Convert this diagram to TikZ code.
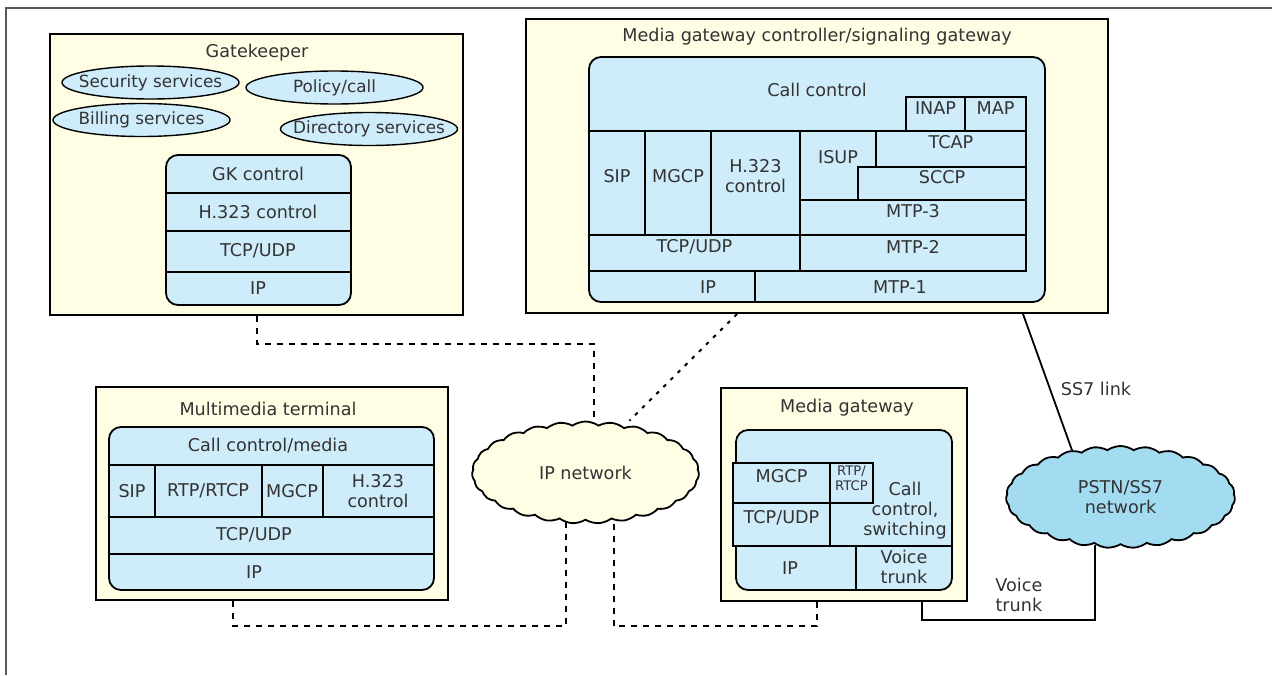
\documentclass[tikz,border=0pt]{standalone}
\usepackage{fontspec}
\setmainfont{DejaVu Sans}
\usetikzlibrary{positioning, shapes.geometric, shapes.symbols, fit}

\definecolor{boxcream}{HTML}{FFFDE3}
\definecolor{stackblue}{HTML}{CFECFA}
\definecolor{pstnblue}{HTML}{A3DBF1}
\definecolor{txtgray}{HTML}{333333}

\begin{document}
\begin{tikzpicture}[
    x=0.5pt, y=-0.5pt,
    font=\fontsize{8.8pt}{10pt}\selectfont,
    unit/.style={draw, fill=boxcream, line width=1pt, inner sep=0pt},
    stack/.style={draw, fill=stackblue, line width=0.9pt, rounded corners=6pt, inner sep=0pt},
    layer/.style={draw, fill=stackblue, line width=0.9pt, inner sep=0pt, align=center, text=txtgray},
    lbl/.style={text=txtgray, align=center, inner sep=1pt},
    svc/.style={ellipse, draw, fill=stackblue, line width=0.7pt, inner sep=0pt, minimum width=88.5pt, minimum height=16.5pt},
    svctext/.style={lbl, font=\fontsize{8.4pt}{10pt}\selectfont},
    net/.style={cloud, cloud puffs=27, cloud puff arc=70, aspect=2.3, draw, line width=0.9pt, inner sep=0pt, align=center, text=txtgray},
    link/.style={dash pattern=on 3pt off 3pt, line width=1pt},
    sigline/.style={line width=0.9pt}
]
    \useasboundingbox (0,0) rectangle (1272,675);
    \draw[black!65, line width=0.8pt] (6,675) -- (6,8) -- (1272,8);

    % --- Gatekeeper ---
    \node[unit, fit={(50,34) (463,315)}] (gk) {};
    \node[lbl] (gktitle) at (257,53) {Gatekeeper};
    \node[svc, label={[svctext]center:Security services}] (secsvc) at (150.5,82.5) {};
    \node[svc, label={[svctext]center:Policy/call}] (polcall) at (334.5,87.5) {};
    \node[svc, label={[svctext]center:Billing services}] (billsvc) at (141.5,120) {};
    \node[svc, label={[svctext]center:Directory services}] (dirsvc) at (369,129) {};
    \node[stack, fit={(166,155) (351,305)}] (gkstack) {};
    \draw[line width=0.9pt] (166,193) -- (351,193) (166,231) -- (351,231) (166,272) -- (351,272);
    \node[lbl] (gkctl) at (258,174) {GK control};
    \node[lbl] (gkh323) at (258,212) {H.323 control};
    \node[lbl] (gktcp) at (258,251) {TCP/UDP};
    \node[lbl] (gkip) at (258,288) {IP};

    % --- Media gateway controller / signaling gateway ---
    \node[unit, fit={(526,19) (1108,313)}] (mgc) {};
    \node[lbl] (mgctitle) at (817,37) {Media gateway controller/signaling gateway};
    \node[stack, fit={(589,57) (1045,302)}] (mgcstack) {};
    \node[lbl] (callctl) at (817,90) {Call control};
    \node[layer, fit={(906,97) (965,131)}] (inap) {INAP};
    \node[layer, fit={(965,97) (1026,131)}] (map) {MAP};
    \node[layer, fit={(589,131) (645,235)}] (sip) {SIP};
    \node[layer, fit={(645,131) (711,235)}] (mgcp) {MGCP};
    \node[layer, fit={(711,131) (800,235)}] (hctl) {H.323\\control};
    \node[layer, fit={(800,131) (876,200)}] (isup) {};
    \node[lbl] at (838,157) {ISUP};
    \node[layer, fit={(876,131) (1026,167)}] (tcap) {TCAP};
    \node[layer, fit={(858,167) (1026,200)}] (sccp) {SCCP};
    \node[layer, fit={(800,200) (1026,235)}] (mtp3) {MTP-3};
    \node[layer, fit={(589,235) (800,271)}] (tcpudp) {TCP/UDP};
    \node[layer, fit={(800,235) (1026,271)}] (mtp2) {MTP-2};
    \draw[line width=0.9pt] (755,271) -- (755,302);
    \node[lbl] (mgcip) at (708,287) {IP};
    \node[lbl] (mtp1) at (900,287) {MTP-1};

    % --- Multimedia terminal ---
    \node[unit, fit={(96,387) (448,600)}] (mt) {};
    \node[lbl] (mttitle) at (268,409) {Multimedia terminal};
    \node[stack, fit={(109,427) (434,590)}] (mtstack) {};
    \draw[line width=0.9pt] (109,465) -- (434,465) (109,517) -- (434,517) (109,554) -- (434,554)
        (155,465) -- (155,517) (262,465) -- (262,517) (323,465) -- (323,517);
    \node[lbl] (mtcall) at (268,446) {Call control/media};
    \node[lbl] (mtsip) at (132,491) {SIP};
    \node[lbl] (mtrtp) at (208,491) {RTP/RTCP};
    \node[lbl] (mtmgcp) at (292,491) {MGCP};
    \node[lbl] (mth323) at (378,491) {H.323\\control};
    \node[lbl] (mttcp) at (254,535) {TCP/UDP};
    \node[lbl] (mtip) at (254,572) {IP};

    % --- Media gateway ---
    \node[unit, fit={(721,388) (967,601)}] (mg) {};
    \node[lbl] (mgtitle) at (847,408) {Media gateway};
    \node[stack, fit={(736,430) (952,590)}] (mgstack) {};
    \node[layer, fit={(733,463) (830,503)}] (mgmgcp) {MGCP};
    \node[layer, fit={(830,463) (873,503)}, font=\fontsize{6.6pt}{7.5pt}\selectfont] (mgrtp) {RTP/\\RTCP};
    \node[layer, fit={(733,503) (830,546)}] (mgtcp) {TCP/UDP};
    \draw[line width=0.9pt] (733,546) -- (952,546) (856,546) -- (856,590);
    \node[lbl] (mgcall) at (905,511) {Call\\control,\\switching};
    \node[lbl] (mgip) at (790,568) {IP};
    \node[lbl] (mgvoice) at (904,567) {Voice\\trunk};

    % --- Networks ---
    \node[net, fill=boxcream, minimum width=113.5pt, minimum height=51pt] (ipnet) at (585.5,472.5) {IP network};
    \node[net, fill=pstnblue, minimum width=114.5pt, minimum height=51pt] (pstn) at (1120.5,497) {PSTN/SS7\\network};

    % --- Links ---
    \draw[link] (gk.south) -- ++(0,28) -| ([xshift=4pt]ipnet.north);
    \draw[link, dash pattern=on 1.8pt off 3.2pt] ([xshift=-40pt]mgc.south) -- ([xshift=22pt]ipnet.north);
    \draw[link] ([xshift=-19.5pt]mt.south) -- ++(0,25) -| ([xshift=-10pt]ipnet.south);
    \draw[link] ([xshift=-13.5pt]mg.south) -- ++(0,24) -| ([xshift=14pt]ipnet.south);
    \draw[sigline] ([xshift=103pt]mgc.south) -- node[lbl, right=4pt, pos=0.55] {SS7 link} (pstn.136);
    \draw[sigline] ([xshift=39pt]mg.south) -- ++(0,18) -| node[lbl, above=2.5pt, pos=0.28] {Voice\\trunk} ([xshift=-12.75pt]pstn.south);
\end{tikzpicture}
\end{document}
